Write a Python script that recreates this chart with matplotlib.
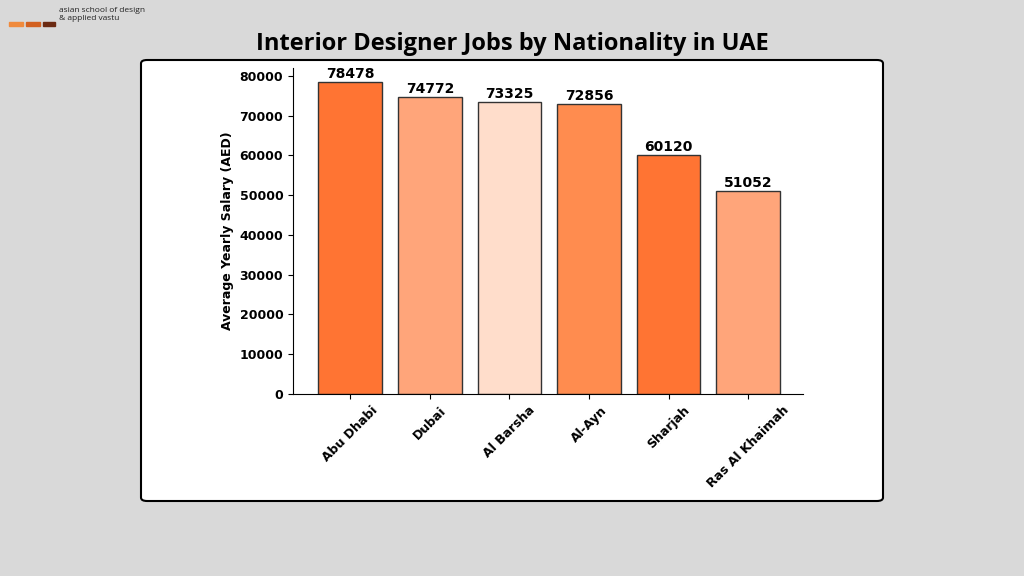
import matplotlib.pyplot as plt
from matplotlib.patches import FancyBboxPatch, Rectangle

cities = ["Abu Dhabi", "Dubai", "Al Barsha", "Al-Ayn", "Sharjah", "Ras Al Khaimah"]
salaries = [78478, 74772, 73325, 72856, 60120, 51052]
colors = ["#FF7433", "#FFA57A", "#FFDDCB", "#FF8C4F", "#FF7433", "#FFA57A"]

W, H = 1024, 576
fig = plt.figure(figsize=(W / 100, H / 100), dpi=100, facecolor="#d9d9d9")

# white card, behind the axes
fig.patches.append(FancyBboxPatch((141 / W, 1 - 501 / H), 742 / W, 441 / H,
                                  boxstyle="round,pad=0,rounding_size=0.006",
                                  transform=fig.transFigure, facecolor="white",
                                  edgecolor="black", linewidth=1.5, zorder=-1))

# logo
for x0, w, c in [(9, 14, "#f08a3c"), (26, 14, "#d2601f"), (43, 12, "#6b2a12")]:
    fig.patches.append(Rectangle((x0 / W, 1 - 26 / H), w / W, 4 / H,
                                 transform=fig.transFigure, color=c))
fig.text(59 / W, 1 - 14 / H, "asian school of design\n& applied vastu", fontsize=6,
         va="center", ha="left", family="Open Sans", linespacing=1.2, color="#222222")

fig.text(512 / W, 1 - 44 / H, "Interior Designer Jobs by Nationality in UAE",
         ha="center", va="center", fontsize=17, fontweight="bold", family="Open Sans")

ax = fig.add_axes([293 / W, 1 - 394 / H, 510 / W, 326 / H])
ax.set_zorder(1)
x = range(len(cities))
bars = ax.bar(x, salaries, width=0.8, color=colors, edgecolor="#333333", linewidth=1)
for b, v in zip(bars, salaries):
    ax.text(b.get_x() + b.get_width() / 2, v + 300, str(v), ha="center", va="bottom",
            fontsize=10, fontweight="bold")

ax.set_xlim(-0.72, 5.69)
ax.set_ylim(0, 82000)
ax.set_yticks(range(0, 80001, 10000))
ax.set_xticks(list(x))
ax.set_xticklabels(cities, rotation=45, fontsize=9, fontweight="bold")
for lab in ax.get_yticklabels():
    lab.set_fontweight("bold")
    lab.set_fontsize(9)
ax.set_ylabel("Average Yearly Salary (AED)", fontsize=9, fontweight="bold")
ax.spines["top"].set_visible(False)
ax.spines["right"].set_visible(False)

fig.savefig("out.png", dpi=100, facecolor=fig.get_facecolor())
